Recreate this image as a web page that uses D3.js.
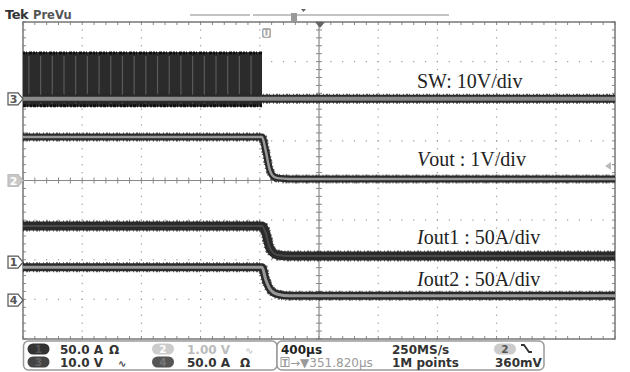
<!DOCTYPE html>
<html>
<head>
<meta charset="utf-8">
<script src="https://cdn.jsdelivr.net/npm/d3@7"></script>
<style>
  body { margin: 0; background: #fff; }
  svg { display: block; }
</style>
</head>
<body>
<div class="chart-wrapper"></div>
<script>
// time base: 400us/div, 10 divisions
const timeUs = [0, 1615, 1640, 1665, 1690, 1720, 1800, 4000];

// channel values at timeUs
const swVolts = [0, 0, 0, 0, 0, 0, 0, 0];
const voutVolts = [1.10, 1.10, 0.75, 0.30, 0.11, 0.06, 0.04, 0.04];
const iout1Amps = [45.5, 45.5, 37, 19, 12, 9, 7.7, 7.7];
const iout2Amps = [41.5, 41.5, 26, 15, 10, 7.5, 5.5, 5.5];

// SW switching envelope (burst stops at ~1615us)
const swBurstTime = [0, 1615];
const swBurstHigh = [11.8, 11.8];
const swBurstLow = [-2.0, -2.0];

const channels = [
  { id: '3', name: 'SW', perDiv: 10, offset: 2.06, values: swVolts },
  { id: '2', name: 'Vout', perDiv: 1, offset: 0, values: voutVolts },
  { id: '1', name: 'Iout1', perDiv: 50, offset: -2.06, values: iout1Amps },
  { id: '4', name: 'Iout2', perDiv: 50, offset: -3.02, values: iout2Amps }
];

const labels = [
  { pre: 'SW', it: '', post: ': 10V/div', y: 88 },
  { pre: '', it: 'V', post: 'out : 1V/div', y: 166 },
  { pre: '', it: 'I', post: 'out1 : 50A/div', y: 244 },
  { pre: '', it: 'I', post: 'out2 : 50A/div', y: 286 }
];

const W = 630, H = 372;
const plot = { left: 23, right: 615, top: 22, bottom: 339 };

const x = d3.scaleLinear().domain([0, 4000]).range([plot.left, plot.right]);
const xDiv = d3.scaleLinear().domain([0, 10]).range([plot.left, plot.right]);
const yDiv = d3.scaleLinear().domain([4, -4]).range([plot.top, plot.bottom]);

const svg = d3.select('.chart-wrapper')
  .append('svg')
  .attr('width', W)
  .attr('height', H)
  .style('font-family', "'DejaVu Sans', sans-serif");

// graticule dots
const grid = svg.append('g').attr('class', 'grid');
d3.range(1, 10).filter(i => i !== 5).forEach(i => {
  d3.range(0, 40 * 1 + 1).forEach(j => {
    grid.append('rect')
      .attr('x', xDiv(i) - 0.6).attr('y', yDiv(4 - j / 5) - 0.6)
      .attr('width', 1.2).attr('height', 1.2).attr('fill', '#999');
  });
});
d3.range(1, 8).filter(i => i !== 4).forEach(i => {
  d3.range(0, 51).forEach(j => {
    grid.append('rect')
      .attr('x', xDiv(j / 5) - 0.6).attr('y', yDiv(4 - i) - 0.6)
      .attr('width', 1.2).attr('height', 1.2).attr('fill', '#999');
  });
});

// center axes with ticks
grid.append('line')
  .attr('x1', plot.left).attr('x2', plot.right)
  .attr('y1', yDiv(0)).attr('y2', yDiv(0))
  .attr('stroke', '#888').attr('stroke-width', 1);
grid.append('line')
  .attr('x1', xDiv(5)).attr('x2', xDiv(5))
  .attr('y1', plot.top).attr('y2', plot.bottom)
  .attr('stroke', '#888').attr('stroke-width', 1.2);

d3.range(0, 51).forEach(j => {
  const xx = xDiv(j / 5);
  grid.append('line').attr('x1', xx).attr('x2', xx)
    .attr('y1', yDiv(0) - 3).attr('y2', yDiv(0) + 3).attr('stroke', '#888');
  grid.append('line').attr('x1', xx).attr('x2', xx)
    .attr('y1', plot.top).attr('y2', plot.top + 3).attr('stroke', '#888');
  grid.append('line').attr('x1', xx).attr('x2', xx)
    .attr('y1', plot.bottom - 3).attr('y2', plot.bottom).attr('stroke', '#888');
});
d3.range(0, 41).forEach(j => {
  const yy = yDiv(4 - j / 5);
  grid.append('line').attr('x1', xDiv(5) - 3).attr('x2', xDiv(5) + 3)
    .attr('y1', yy).attr('y2', yy).attr('stroke', '#888');
  grid.append('line').attr('x1', plot.left).attr('x2', plot.left + 3)
    .attr('y1', yy).attr('y2', yy).attr('stroke', '#888');
  grid.append('line').attr('x1', plot.right - 3).attr('x2', plot.right)
    .attr('y1', yy).attr('y2', yy).attr('stroke', '#888');
});

// border
svg.append('rect')
  .attr('x', plot.left).attr('y', plot.top)
  .attr('width', plot.right - plot.left).attr('height', plot.bottom - plot.top)
  .attr('fill', 'none').attr('stroke', '#777').attr('stroke-width', 1.5);

// SW burst block
const sw = channels[0];
const swY = v => yDiv(sw.offset + v / sw.perDiv);
const burst = svg.append('g').attr('class', 'burst');
burst.append('rect')
  .attr('x', x(swBurstTime[0])).attr('y', swY(swBurstHigh[0]))
  .attr('width', x(swBurstTime[1]) - x(swBurstTime[0]))
  .attr('height', swY(swBurstLow[0]) - swY(swBurstHigh[0]))
  .attr('fill', '#2b2b2b');
// aliased switching edges show as lighter stripes
d3.range(swBurstTime[0] + 40, swBurstTime[1], 79).forEach(t => {
  burst.append('line')
    .attr('x1', x(t)).attr('x2', x(t))
    .attr('y1', swY(swBurstHigh[0]) + 4).attr('y2', swY(swBurstLow[0]) - 3)
    .attr('stroke', '#5a5a5a').attr('stroke-width', 1.2);
});
burst.append('line')
  .attr('x1', x(swBurstTime[0])).attr('x2', x(swBurstTime[1]))
  .attr('y1', swY(swBurstHigh[0]) + 1).attr('y2', swY(swBurstHigh[0]) + 1)
  .attr('stroke', '#111').attr('stroke-width', 3).attr('stroke-dasharray', '2,1,1,2,3,1');
burst.append('line')
  .attr('x1', x(swBurstTime[0])).attr('x2', x(swBurstTime[1]))
  .attr('y1', swY(swBurstLow[0]) - 1).attr('y2', swY(swBurstLow[0]) - 1)
  .attr('stroke', '#111').attr('stroke-width', 3).attr('stroke-dasharray', '3,1,1,2,2,1');

// traces
const style = {
  '3': { dark: 8, gray: 4, grayColor: '#8a8a8a' },
  '2': { dark: 7, gray: 2.5, grayColor: '#9a9a9a' },
  '1': { dark: 9, gray: 2, grayColor: '#4a4a4a' },
  '4': { dark: 8, gray: 3, grayColor: '#999' }
};

channels.forEach(ch => {
  const line = d3.line()
    .x((d, i) => x(timeUs[i]))
    .y(d => yDiv(ch.offset + d / ch.perDiv))
    .curve(d3.curveMonotoneX);
  const s = style[ch.id];
  const g = svg.append('g').attr('class', 'trace ch' + ch.id);
  g.append('path').attr('d', line(ch.values))
    .attr('fill', 'none').attr('stroke', '#222').attr('stroke-width', s.dark + 2)
    .attr('stroke-dasharray', '1,2,2,1,1,3').attr('opacity', 0.7);
  g.append('path').attr('d', line(ch.values))
    .attr('fill', 'none').attr('stroke', '#2a2a2a').attr('stroke-width', s.dark);
  g.append('path').attr('d', line(ch.values))
    .attr('fill', 'none').attr('stroke', s.grayColor).attr('stroke-width', s.gray);
});

// gray level band inside SW burst
burst.append('line')
  .attr('x1', x(swBurstTime[0])).attr('x2', x(swBurstTime[1]))
  .attr('y1', swY(0)).attr('y2', swY(0))
  .attr('stroke', '#7a7a7a').attr('stroke-width', 4);

// channel markers on the left
channels.forEach(ch => {
  const yy = yDiv(ch.offset);
  const light = ch.id === '2';
  const m = svg.append('g').attr('transform', 'translate(8,' + yy + ')');
  m.append('path')
    .attr('d', 'M0,-6 H10 L15,0 L10,6 H0 Z')
    .attr('fill', light ? '#c8c8c8' : '#fff')
    .attr('stroke', light ? '#bbb' : '#555').attr('stroke-width', 1.2);
  m.append('text').text(ch.id)
    .attr('x', 5.5).attr('y', 4).attr('text-anchor', 'middle')
    .attr('font-size', 11).attr('font-weight', 'bold')
    .attr('fill', light ? '#fff' : '#555');
});

// trace labels
labels.forEach(l => {
  const t = svg.append('text')
    .attr('x', 417).attr('y', l.y)
    .attr('font-family', "'Liberation Serif', 'DejaVu Serif', serif")
    .attr('font-size', 20).attr('fill', '#222');
  if (l.pre) t.append('tspan').text(l.pre);
  if (l.it) t.append('tspan').attr('font-style', 'italic').text(l.it);
  t.append('tspan').text(l.post);
});

// header
svg.append('text').text('Tek').attr('x', 5).attr('y', 19)
  .attr('font-size', 13).attr('font-weight', 'bold').attr('fill', '#333')
  .attr('letter-spacing', -0.5);
svg.append('text').text('PreVu').attr('x', 33).attr('y', 19)
  .attr('font-size', 11.5).attr('font-weight', 'bold').attr('fill', '#555');

svg.append('line').attr('x1', 190).attr('x2', 250).attr('y1', 15).attr('y2', 15)
  .attr('stroke', '#c4c4c4').attr('stroke-width', 2);
svg.append('line').attr('x1', 253).attr('x2', 449).attr('y1', 15).attr('y2', 15)
  .attr('stroke', '#c4c4c4').attr('stroke-width', 2);
svg.append('rect').attr('x', 291).attr('y', 13).attr('width', 6).attr('height', 8)
  .attr('fill', '#999');
svg.append('path').attr('d', 'M301,9 H306 L303.5,12 Z').attr('fill', '#666');
// trigger position on top border
svg.append('path').attr('d', 'M315,22 H325 L320,28 Z').attr('fill', '#666');
// expansion point marker
svg.append('rect').attr('x', 262).attr('y', 28).attr('width', 9).attr('height', 10).attr('rx', 2)
  .attr('fill', '#aaa');
svg.append('text').text('U').attr('x', 266.5).attr('y', 36.5).attr('text-anchor', 'middle')
  .attr('font-size', 9).attr('font-weight', 'bold').attr('fill', '#fff');
// trigger level marker (ch2)
svg.append('path').attr('d', 'M605,166 L611,162 V170 Z').attr('fill', '#bbb');

// readout boxes
const box = svg.append('g').attr('class', 'readout');
box.append('rect').attr('x', 23.5).attr('y', 341).attr('width', 253.5).attr('height', 29).attr('rx', 5)
  .attr('fill', '#fff').attr('stroke', '#999').attr('stroke-width', 1.5);
box.append('rect').attr('x', 277).attr('y', 341).attr('width', 267).attr('height', 29).attr('rx', 5)
  .attr('fill', '#fff').attr('stroke', '#999').attr('stroke-width', 1.5);

const badge = (cx, cy, label, fill, color) => {
  box.append('rect').attr('x', cx - 11).attr('y', cy - 5.5).attr('width', 22).attr('height', 11)
    .attr('rx', 5.5).attr('fill', fill);
  box.append('text').text(label).attr('x', cx).attr('y', cy + 4).attr('text-anchor', 'middle')
    .attr('font-size', 10.5).attr('font-weight', 'bold').attr('fill', color);
};
const txt = (s, xx, yy, color) => box.append('text').text(s).attr('x', xx).attr('y', yy)
  .attr('font-size', 12).attr('font-weight', 'bold').attr('fill', color);

badge(38.5, 349, '1', '#333', '#555');
badge(38.5, 362, '3', '#444', '#666');
badge(163, 349, '2', '#ccc', '#fff');
badge(163, 362, '4', '#555', '#777');

txt('50.0 A', 60, 353.5, '#333');
txt('Ω', 109, 353.5, '#333');
txt('10.0 V', 60, 366.5, '#333');
txt('∿', 118, 366.5, '#444').attr('font-size', 10);
txt('1.00 V', 187, 353.5, '#bbb');
txt('∿', 245, 353.5, '#ccc').attr('font-size', 10);
txt('50.0 A', 187, 366.5, '#333');
txt('Ω', 240, 366.5, '#333');

txt('400µs', 281, 353.5, '#222');
box.append('rect').attr('x', 281).attr('y', 357.5).attr('width', 8).attr('height', 9)
  .attr('fill', 'none').attr('stroke', '#999');
box.append('text').text('T').attr('x', 285).attr('y', 365.5).attr('text-anchor', 'middle')
  .attr('font-size', 8).attr('font-weight', 'bold').attr('fill', '#999');
txt('→▼351.820µs', 290, 366.5, '#999').attr('font-weight', 'normal');
txt('250MS/s', 392, 353.5, '#333');
txt('1M points', 392, 366.5, '#333');
badge(505, 349, '2', '#ccc', '#555');
box.append('path').attr('d', 'M521,345 H524 L529,352 H532').attr('fill', 'none')
  .attr('stroke', '#333').attr('stroke-width', 1.8);
txt('360mV', 495, 366.5, '#333');
</script>
</body>
</html>
